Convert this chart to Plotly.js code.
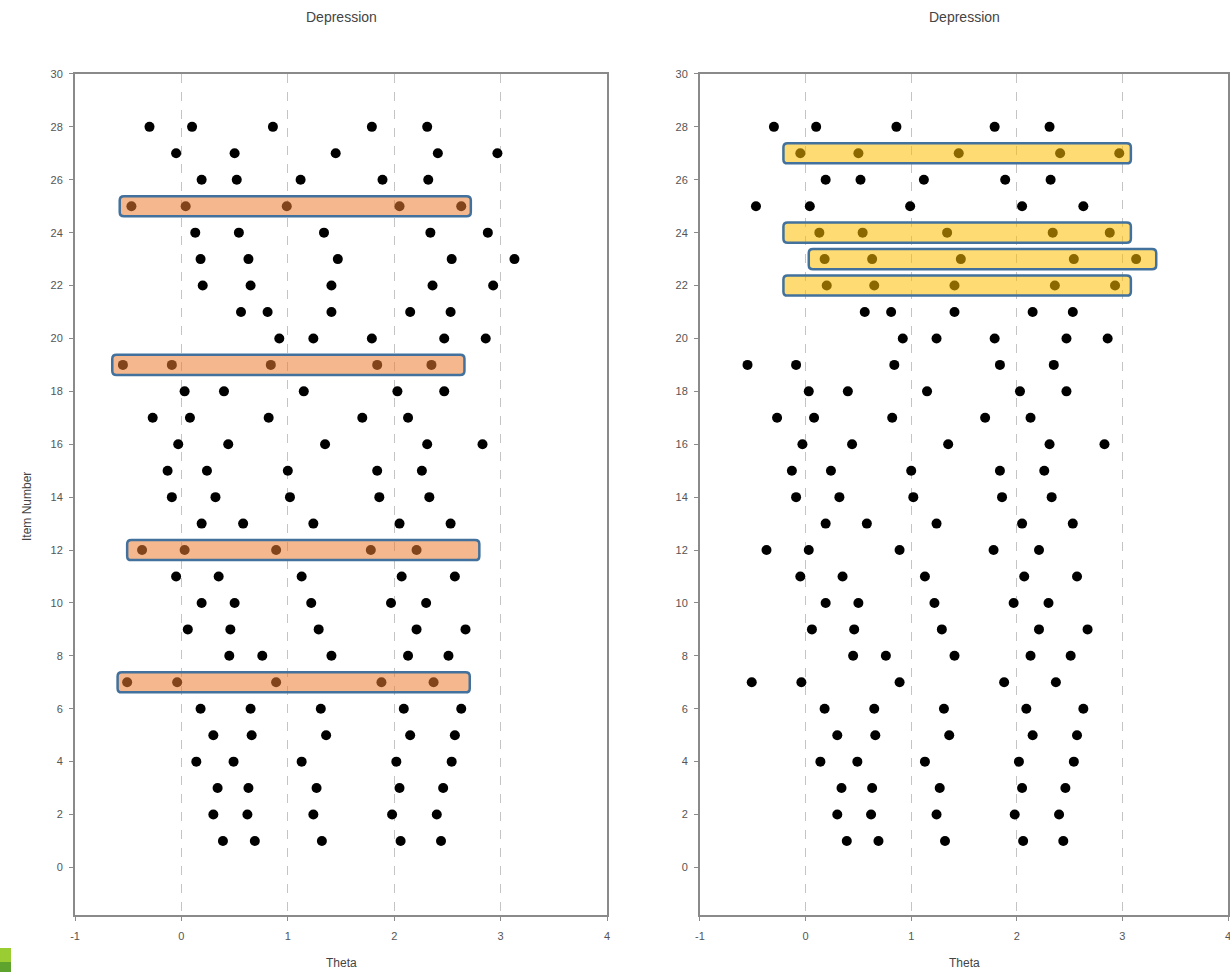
<!DOCTYPE html>
<html>
<head>
<meta charset="utf-8">
<script src="https://cdn.plot.ly/plotly-3.0.1.min.js"></script>
<style>
  html, body { margin: 0; padding: 0; background: #fff; }
  #chart { width: 1230px; height: 972px; position: relative; }
  .corner { position: absolute; left: 0; width: 11px; }
</style>
</head>
<body>
<div id="chart"></div>
<div class="corner" style="top:948px;height:14px;background:#9acd32;"></div>
<div class="corner" style="top:962px;height:10px;background:#5ea32e;"></div>
<script>
// Item numbers and the five threshold thetas per item
const items   = [1, 2, 3, 4, 5, 6, 7, 8, 9, 10, 11, 12, 13, 14, 15, 16, 17, 18, 19, 20, 21, 22, 23, 24, 25, 26, 27, 28];
const theta1  = [0.39, 0.30, 0.34, 0.14, 0.30, 0.18, -0.51, 0.45, 0.06, 0.19, -0.05, -0.37, 0.19, -0.09, -0.13, -0.03, -0.27, 0.03, -0.55, 0.92, 0.56, 0.20, 0.18, 0.13, -0.47, 0.19, -0.05, -0.30];
const theta2  = [0.69, 0.62, 0.63, 0.49, 0.66, 0.65, -0.04, 0.76, 0.46, 0.50, 0.35, 0.03, 0.58, 0.32, 0.24, 0.44, 0.08, 0.40, -0.09, 1.24, 0.81, 0.65, 0.63, 0.54, 0.04, 0.52, 0.50, 0.10];
const theta3  = [1.32, 1.24, 1.27, 1.13, 1.36, 1.31, 0.89, 1.41, 1.29, 1.22, 1.13, 0.89, 1.24, 1.02, 1.00, 1.35, 0.82, 1.15, 0.84, 1.79, 1.41, 1.41, 1.47, 1.34, 0.99, 1.12, 1.45, 0.86];
const theta4  = [2.06, 1.98, 2.05, 2.02, 2.15, 2.09, 1.88, 2.13, 2.21, 1.97, 2.07, 1.78, 2.05, 1.86, 1.84, 2.31, 1.70, 2.03, 1.84, 2.47, 2.15, 2.36, 2.54, 2.34, 2.05, 1.89, 2.41, 1.79];
const theta5  = [2.44, 2.40, 2.46, 2.54, 2.57, 2.63, 2.37, 2.51, 2.67, 2.30, 2.57, 2.21, 2.53, 2.33, 2.26, 2.83, 2.13, 2.47, 2.35, 2.86, 2.53, 2.93, 3.13, 2.88, 2.63, 2.32, 2.97, 2.31];

// Highlight boxes (item row, theta extent)
const leftBoxRows  = [25, 19, 12, 7];
const leftBoxX0    = [-0.58, -0.65, -0.51, -0.60];
const leftBoxX1    = [2.72, 2.66, 2.80, 2.71];
const rightBoxRows = [27, 24, 23, 22];
const rightBoxX0   = [-0.21, -0.21, 0.03, -0.21];
const rightBoxX1   = [3.08, 3.08, 3.32, 3.08];

const xTicks = [-1, 0, 1, 2, 3, 4];
const xTickText = ['-1', '0', '1', '2', '3', '4'];
const yTicks = [0, 2, 4, 6, 8, 10, 12, 14, 16, 18, 20, 22, 24, 26, 28, 30];
const panelTitle = 'Depression';
const xTitle = 'Theta';
const yTitle = 'Item Number';

// flatten points
const px = [], py = [];
[theta1, theta2, theta3, theta4, theta5].forEach(arr => {
  arr.forEach((v, i) => { px.push(v); py.push(items[i]); });
});

const marker = { color: '#000000', size: 10, symbol: 'circle', line: { width: 0 } };
const traces = [
  { type: 'scatter', mode: 'markers', x: px, y: py, xaxis: 'x', yaxis: 'y', marker: marker, hoverinfo: 'x+y', showlegend: false },
  { type: 'scatter', mode: 'markers', x: px, y: py, xaxis: 'x2', yaxis: 'y2', marker: marker, hoverinfo: 'x+y', showlegend: false }
];

function roundedBox(x0, x1, yc, yr, rx, ry) {
  const y0 = yc - yr, y1 = yc + yr;
  return `M ${x0 + rx},${y0} L ${x1 - rx},${y0} Q ${x1},${y0} ${x1},${y0 + ry} ` +
         `L ${x1},${y1 - ry} Q ${x1},${y1} ${x1 - rx},${y1} ` +
         `L ${x0 + rx},${y1} Q ${x0},${y1} ${x0},${y1 - ry} ` +
         `L ${x0},${y0 + ry} Q ${x0},${y0} ${x0 + rx},${y0} Z`;
}

const shapes = [];
leftBoxRows.forEach((r, i) => {
  shapes.push({ type: 'path', xref: 'x', yref: 'y', layer: 'above',
    path: roundedBox(leftBoxX0[i], leftBoxX1[i], r, 0.38, 0.04, 0.15),
    fillcolor: 'rgba(237,125,49,0.55)', line: { color: '#41719c', width: 2.5 } });
});
rightBoxRows.forEach((r, i) => {
  shapes.push({ type: 'path', xref: 'x2', yref: 'y2', layer: 'above',
    path: roundedBox(rightBoxX0[i], rightBoxX1[i], r, 0.38, 0.04, 0.15),
    fillcolor: 'rgba(255,192,0,0.55)', line: { color: '#41719c', width: 2.5 } });
});

const fontFam = '"Liberation Sans", Arial, sans-serif';
const tickCol = '#555555';
function xAx(domain, anchor) {
  return {
    domain: domain, anchor: anchor, range: [-1, 4], tickmode: 'array', tickvals: xTicks, ticktext: xTickText,
    showgrid: true, gridcolor: '#c4c4c4', griddash: 'dash', gridwidth: 1,
    zeroline: false, showline: true, mirror: true, linecolor: '#8a8a8a', linewidth: 2,
    ticks: 'outside', ticklen: 4, tickcolor: '#8a8a8a', ticklabelstandoff: 6, ticklabeloverflow: 'allow',
    tickfont: { family: fontFam, size: 11, color: tickCol },
    fixedrange: true
  };
}
function yAx(domain, anchor) {
  return {
    domain: domain, anchor: anchor, range: [-1.8, 30], tickmode: 'array', tickvals: yTicks,
    showgrid: false, zeroline: false, showline: true, mirror: true, linecolor: '#8a8a8a', linewidth: 2,
    ticks: 'outside', ticklen: 4, tickcolor: '#8a8a8a', ticklabelstandoff: 4,
    tickfont: { family: fontFam, size: 11, color: tickCol },
    fixedrange: true
  };
}

const yDom = [0.0586, 0.9239];
const xDom1 = [0.0610, 0.4935];
const xDom2 = [0.5691, 0.9984];
const titleFont = { family: fontFam, size: 14, color: '#444' };
const axFont = { family: fontFam, size: 12, color: '#444' };

const layout = {
  width: 1230, height: 972,
  margin: { l: 0, r: 0, t: 0, b: 0 },
  paper_bgcolor: '#ffffff', plot_bgcolor: '#ffffff',
  font: { family: fontFam, color: tickCol },
  showlegend: false,
  xaxis: xAx(xDom1, 'y'),
  yaxis: yAx(yDom, 'x'),
  xaxis2: xAx(xDom2, 'y2'),
  yaxis2: yAx(yDom, 'x2'),
  shapes: shapes,
  annotations: [
    { text: panelTitle, xref: 'paper', yref: 'paper', x: (xDom1[0] + xDom1[1]) / 2, y: 1 - 17 / 972,
      xanchor: 'center', yanchor: 'middle', showarrow: false, font: titleFont },
    { text: panelTitle, xref: 'paper', yref: 'paper', x: (xDom2[0] + xDom2[1]) / 2, y: 1 - 17 / 972,
      xanchor: 'center', yanchor: 'middle', showarrow: false, font: titleFont },
    { text: xTitle, xref: 'paper', yref: 'paper', x: (xDom1[0] + xDom1[1]) / 2, y: 1 - 963 / 972,
      xanchor: 'center', yanchor: 'middle', showarrow: false, font: axFont },
    { text: xTitle, xref: 'paper', yref: 'paper', x: (xDom2[0] + xDom2[1]) / 2, y: 1 - 963 / 972,
      xanchor: 'center', yanchor: 'middle', showarrow: false, font: axFont },
    { text: yTitle, xref: 'paper', yref: 'paper', x: 27 / 1230, y: 1 - 507 / 972, textangle: -90,
      xanchor: 'center', yanchor: 'middle', showarrow: false, font: axFont }
  ]
};

Plotly.newPlot('chart', traces, layout, { displayModeBar: false, staticPlot: true });
</script>
</body>
</html>
